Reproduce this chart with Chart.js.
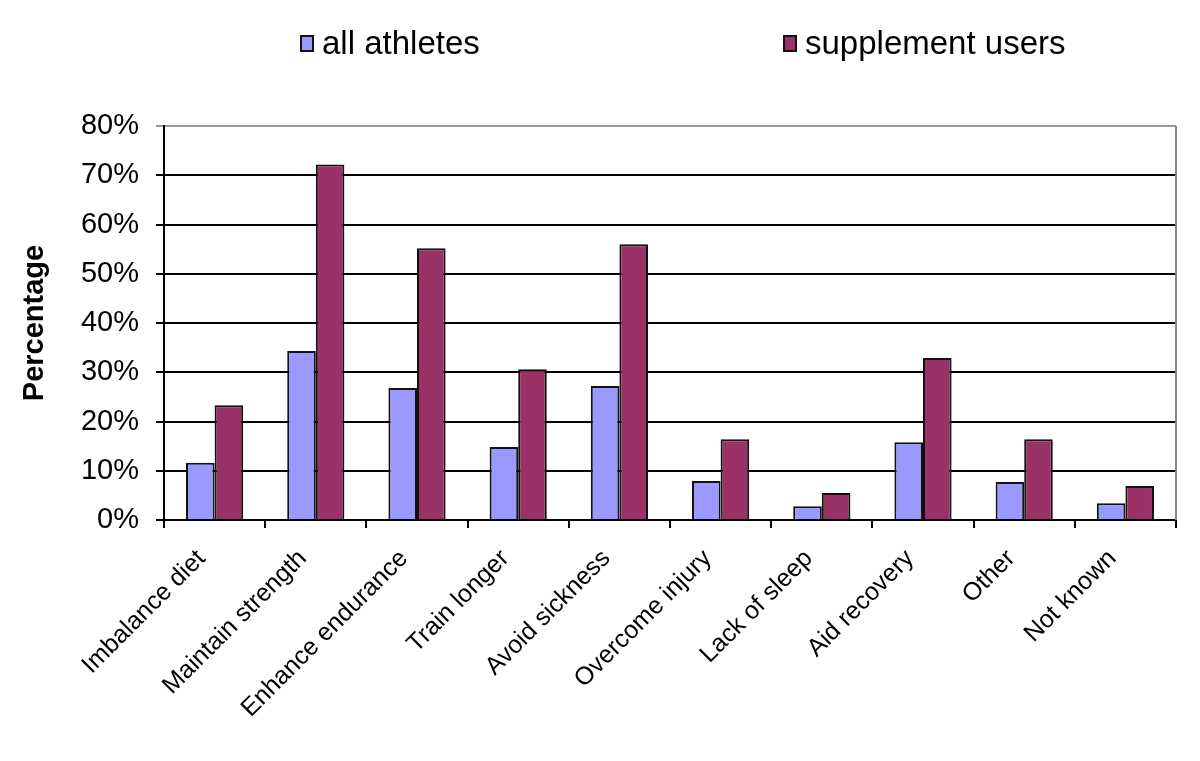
<!DOCTYPE html>
<html>
<head>
<meta charset="utf-8">
<script src="https://cdn.jsdelivr.net/npm/chart.js@4/dist/chart.umd.min.js"></script>
<style>
  html, body { margin: 0; padding: 0; background: #fff; }
  #wrap { position: relative; width: 1200px; height: 761px; }
  #legend { position: absolute; top: 24px; left: 0; width: 1200px; height: 40px;
            font-family: 'Liberation Sans', Arial, sans-serif; font-size: 33px; color: #000; }
  .item { position: absolute; top: 0; display: flex; align-items: center; white-space: nowrap; }
  .box { width: 14px; height: 17px; border: 2px solid #111; margin-right: 8px; box-sizing: border-box; }
</style>
</head>
<body>
<div id="wrap">
  <canvas id="c" width="1200" height="761"></canvas>
  <div id="legend"></div>
</div>
<script>
const categories = ["Imbalance diet", "Maintain strength", "Enhance endurance", "Train longer",
  "Avoid sickness", "Overcome injury", "Lack of sleep", "Aid recovery", "Other", "Not known"];
const seriesNames = ["all athletes", "supplement users"];
const allAthletes = [11.6, 34.3, 26.8, 14.8, 27.2, 7.9, 2.8, 15.8, 7.7, 3.4];
const supplementUsers = [23.3, 72.2, 55.2, 30.6, 56.0, 16.4, 5.5, 32.9, 16.4, 6.9];
const yTicks = [0, 10, 20, 30, 40, 50, 60, 70, 80];
const seriesColors = ["#9999FF", "#993366"];
const yTitle = "Percentage";

const font = "'Liberation Sans', Arial, sans-serif";

const rightBorder = {
  id: 'rightBorder',
  afterDraw(chart) {
    const a = chart.chartArea, ctx = chart.ctx;
    ctx.save();
    ctx.strokeStyle = '#888';
    ctx.lineWidth = 2;
    ctx.beginPath();
    ctx.moveTo(a.right, a.top);
    ctx.lineTo(a.right, a.bottom);
    ctx.stroke();
    ctx.restore();
  }
};

const chart = new Chart(document.getElementById('c'), {
  type: 'bar',
  data: {
    labels: categories,
    datasets: [
      { label: seriesNames[0], data: allAthletes, backgroundColor: seriesColors[0], borderColor: '#111', borderWidth: 2 },
      { label: seriesNames[1], data: supplementUsers, backgroundColor: seriesColors[1], borderColor: '#111', borderWidth: 2 }
    ]
  },
  options: {
    responsive: false,
    animation: false,
    layout: { padding: { left: 0, right: 24, top: 126, bottom: 0 } },
    datasets: { bar: { categoryPercentage: 0.565, barPercentage: 1.0 } },
    plugins: { legend: { display: false }, tooltip: { enabled: false } },
    scales: {
      x: {
        grid: { display: true, drawOnChartArea: false, drawTicks: true, tickLength: 8, color: '#000', lineWidth: 2, offset: true },
        border: { display: true, color: '#000', width: 2 },
        ticks: { font: { family: font, size: 25 }, color: '#000', minRotation: 45, maxRotation: 45, autoSkip: false, padding: 16, labelOffset: -13 },
        afterFit(s) { s.height = 241; }
      },
      y: {
        min: 0, max: 80,
        afterBuildTicks(s) { s.ticks = yTicks.map(v => ({ value: v })); },
        grid: {
          color: ctx => (ctx.tick && ctx.tick.value === 80) ? '#999' : '#000',
          lineWidth: 2, tickLength: 8, drawTicks: true
        },
        border: { display: true, color: '#000', width: 2 },
        ticks: { font: { family: font, size: 29 }, color: '#000', padding: 17, callback: v => v + '%' },
        title: { display: true, text: yTitle, font: { family: font, size: 29, weight: 'bold' }, color: '#000', padding: { top: 18, bottom: 0 } },
        afterFit(s) { s.width = 164; }
      }
    }
  },
  plugins: [rightBorder]
});

// HTML legend built from datasets
const legend = document.getElementById('legend');
const legendLefts = [300, 783];
chart.data.datasets.forEach((ds, i) => {
  const it = document.createElement('div');
  it.className = 'item';
  it.style.left = legendLefts[i] + 'px';
  const b = document.createElement('span');
  b.className = 'box';
  b.style.background = ds.backgroundColor;
  const t = document.createElement('span');
  t.textContent = ds.label;
  it.appendChild(b); it.appendChild(t);
  legend.appendChild(it);
});
</script>
</body>
</html>
